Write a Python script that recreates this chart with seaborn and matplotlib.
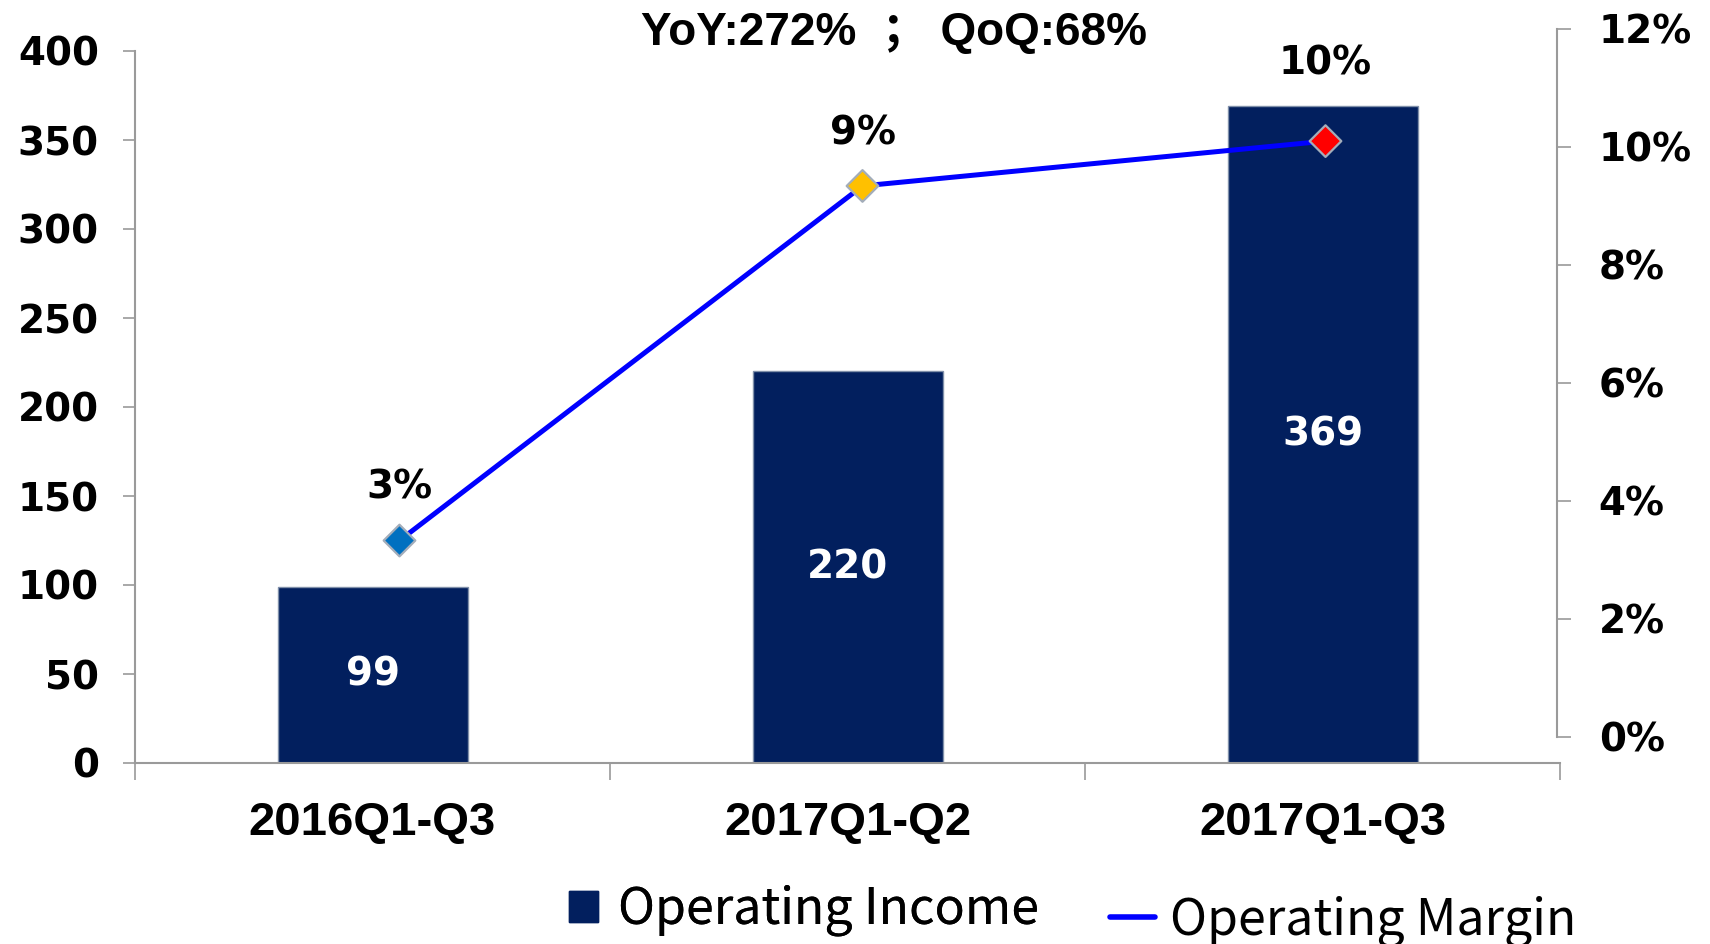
import matplotlib
matplotlib.use("Agg")
import matplotlib.pyplot as plt
import seaborn as sns
import pandas as pd
from matplotlib.lines import Line2D
from matplotlib.patches import Patch

# ---- data ----
categories = ["2016Q1-Q3", "2017Q1-Q2", "2017Q1-Q3"]
operating_income = [99, 220, 369]
operating_margin = [3.33, 9.34, 10.1]
margin_labels = ["3%", "9%", "10%"]
marker_colors = ["#0070C0", "#FFC000", "#FF0000"]
income_ticks = [0, 50, 100, 150, 200, 250, 300, 350, 400]
margin_ticks = [0, 2, 4, 6, 8, 10, 12]
headline = "YoY:272%  ； QoQ:68%"

sns.set_theme(style="white")
plt.rcParams['font.family'] = ['Liberation Sans', 'Noto Sans CJK SC', 'DejaVu Sans']
plt.rcParams['text.color'] = 'black'
plt.rcParams['xtick.color'] = 'black'
plt.rcParams['ytick.color'] = 'black'

W, H = 1710, 944
fig = plt.figure(figsize=(W / 100, H / 100), dpi=100)

bar_color = "#021F5E"
axis_gray = "#9A9A9A"
num_font = dict(family=["DejaVu Sans"], weight="bold", size=28)

# primary axes (bars)
ax1 = fig.add_axes([135 / W, (H - 763) / H, (1560 - 135) / W, (763 - 51) / H])
df = pd.DataFrame({"cat": categories, "income": operating_income})
sns.barplot(data=df, x="cat", y="income", ax=ax1, color=bar_color, width=0.4,
            saturation=1, edgecolor="#8090AA", linewidth=1)
ax1.set_xlim(-0.5, 2.5)
ax1.set_ylim(0, 400)
ax1.set_yticks(income_ticks)
ax1.set_yticklabels([str(v) for v in income_ticks], **num_font)
ax1.set_xticks([-0.5, 0.5, 1.5, 2.5])
ax1.set_xticklabels([])
ax1.set_xticks([0, 1, 2], minor=True)
ax1.set_xticklabels(categories, minor=True, fontsize=34, fontweight="bold")
ax1.tick_params(axis="x", which="major", direction="out", length=12, width=1.2,
                color=axis_gray, bottom=True)
ax1.tick_params(axis="x", which="minor", length=0, pad=27, bottom=True)
ax1.tick_params(axis="y", direction="out", length=9, width=1.2, color=axis_gray,
                pad=17, left=True)
ax1.set_xlabel("")
ax1.set_ylabel("")
for s in ["top", "right"]:
    ax1.spines[s].set_visible(False)
for s in ["left", "bottom"]:
    ax1.spines[s].set_color(axis_gray)
    ax1.spines[s].set_linewidth(1.5)
ax1.patch.set_alpha(0)

for i, v in enumerate(operating_income):
    ax1.text(i, v / 2, str(v), ha="center", va="center", color="white", **num_font)

# secondary axes (line)
ax2 = fig.add_axes([168 / W, (H - 737) / H, (1557 - 168) / W, (737 - 29) / H])
ax2.patch.set_alpha(0)
ldf = pd.DataFrame({"x": [0, 1, 2], "m": operating_margin, "cat": categories})
sns.lineplot(data=ldf, x="x", y="m", ax=ax2, color="#0000FF", linewidth=3.6,
             legend=False)
sns.scatterplot(data=ldf, x="x", y="m", hue="cat", palette=marker_colors,
                marker="D", s=260, edgecolor="#A3ADBA", linewidth=1.6,
                ax=ax2, legend=False, zorder=5)
ax2.set_xlim(-0.5, 2.5)
ax2.set_ylim(0, 12)
ax2.set_xticks([])
ax2.set_yticks(margin_ticks)
ax2.yaxis.tick_right()
ax2.set_yticklabels([f"{v}%" for v in margin_ticks], **num_font)
ax2.tick_params(axis="y", direction="out", length=10, width=1.2, color=axis_gray,
                pad=20, right=True, left=False)
ax2.set_xlabel("")
ax2.set_ylabel("")
for s in ["top", "left", "bottom"]:
    ax2.spines[s].set_visible(False)
ax2.spines["right"].set_color(axis_gray)
ax2.spines["right"].set_linewidth(1.5)

label_offsets = [38, 38, 56]
for i, (v, lab) in enumerate(zip(operating_margin, margin_labels)):
    ax2.annotate(lab, (i, v), xytext=(0, label_offsets[i]), textcoords="offset points",
                 ha="center", va="center", **num_font)

fig.text(894 / W, 1 - 33 / H, headline, ha="center", va="center",
         fontsize=33, fontweight="bold")

leg_prop = {"family": ["Noto Sans CJK TC"], "size": 36}
leg1 = fig.legend([Patch(facecolor=bar_color, edgecolor=bar_color)],
                  ["Operating Income"], loc="center left",
                  bbox_to_anchor=(569 / W, 1 - 910 / H), frameon=False,
                  prop=leg_prop, handlelength=0.58, handleheight=0.58,
                  handletextpad=0.4, borderpad=0, borderaxespad=0)
fig.legend([Line2D([0], [0], color="#0000FF", linewidth=4)],
           ["Operating Margin"], loc="center left",
           bbox_to_anchor=(1110 / W, 1 - 921 / H), frameon=False,
           prop=leg_prop, handlelength=0.9, handletextpad=0.3,
           borderpad=0, borderaxespad=0)
fig.add_artist(leg1)

fig.savefig("out.png", dpi=100)
